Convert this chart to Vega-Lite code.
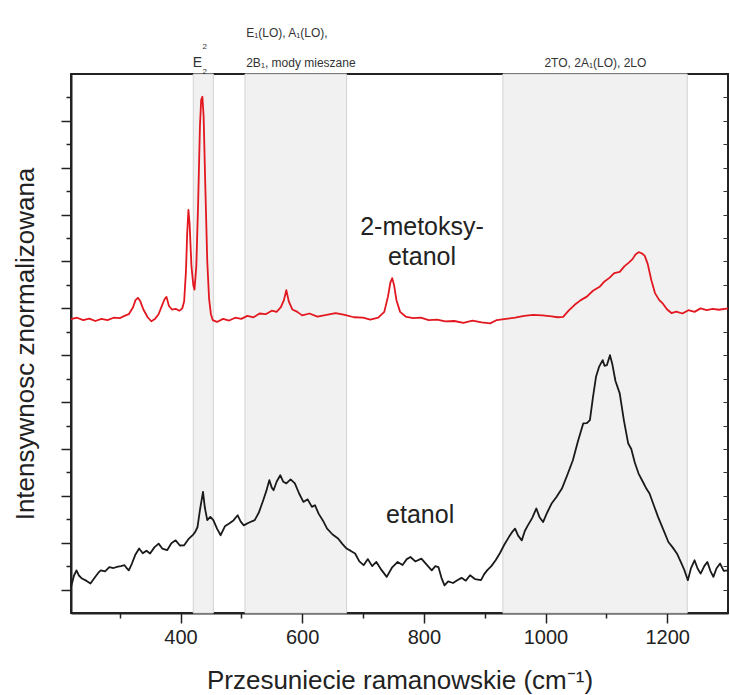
{
  "$schema": "https://vega.github.io/schema/vega-lite/v6.json",
  "width": 657,
  "height": 539,
  "autosize": {"type": "none"},
  "padding": {"left": 71, "top": 74, "right": 2, "bottom": 82},
  "background": "white",
  "config": {"view": {"stroke": "#222", "strokeWidth": 2}, "font": "Liberation Sans"},
  "datasets": {
    "bands": [
      {"start": 421, "end": 454},
      {"start": 506, "end": 673},
      {"start": 930, "end": 1233}
    ],
    "spectra": [
      {"shift": 220, "intensity": 1.11, "sample": "etanol"},
      {"shift": 225, "intensity": 1.6, "sample": "etanol"},
      {"shift": 229, "intensity": 1.82, "sample": "etanol"},
      {"shift": 233, "intensity": 1.6, "sample": "etanol"},
      {"shift": 238, "intensity": 1.47, "sample": "etanol"},
      {"shift": 245, "intensity": 1.38, "sample": "etanol"},
      {"shift": 252, "intensity": 1.26, "sample": "etanol"},
      {"shift": 260, "intensity": 1.55, "sample": "etanol"},
      {"shift": 265, "intensity": 1.72, "sample": "etanol"},
      {"shift": 269, "intensity": 1.82, "sample": "etanol"},
      {"shift": 276, "intensity": 1.78, "sample": "etanol"},
      {"shift": 283, "intensity": 1.96, "sample": "etanol"},
      {"shift": 290, "intensity": 1.92, "sample": "etanol"},
      {"shift": 297, "intensity": 1.98, "sample": "etanol"},
      {"shift": 302, "intensity": 2.0, "sample": "etanol"},
      {"shift": 308, "intensity": 2.04, "sample": "etanol"},
      {"shift": 312, "intensity": 1.9, "sample": "etanol"},
      {"shift": 315, "intensity": 1.82, "sample": "etanol"},
      {"shift": 320, "intensity": 2.1, "sample": "etanol"},
      {"shift": 326, "intensity": 2.5, "sample": "etanol"},
      {"shift": 332, "intensity": 2.75, "sample": "etanol"},
      {"shift": 338, "intensity": 2.55, "sample": "etanol"},
      {"shift": 344, "intensity": 2.66, "sample": "etanol"},
      {"shift": 350, "intensity": 2.54, "sample": "etanol"},
      {"shift": 357, "intensity": 2.8, "sample": "etanol"},
      {"shift": 364, "intensity": 2.96, "sample": "etanol"},
      {"shift": 370, "intensity": 2.75, "sample": "etanol"},
      {"shift": 378, "intensity": 2.68, "sample": "etanol"},
      {"shift": 385, "intensity": 2.98, "sample": "etanol"},
      {"shift": 392, "intensity": 3.1, "sample": "etanol"},
      {"shift": 399, "intensity": 2.88, "sample": "etanol"},
      {"shift": 406, "intensity": 2.89, "sample": "etanol"},
      {"shift": 413, "intensity": 3.15, "sample": "etanol"},
      {"shift": 420, "intensity": 3.32, "sample": "etanol"},
      {"shift": 424, "intensity": 3.45, "sample": "etanol"},
      {"shift": 428, "intensity": 3.67, "sample": "etanol"},
      {"shift": 432, "intensity": 4.4, "sample": "etanol"},
      {"shift": 437, "intensity": 5.17, "sample": "etanol"},
      {"shift": 440, "intensity": 4.5, "sample": "etanol"},
      {"shift": 444, "intensity": 3.96, "sample": "etanol"},
      {"shift": 449, "intensity": 4.1, "sample": "etanol"},
      {"shift": 454, "intensity": 3.96, "sample": "etanol"},
      {"shift": 460, "intensity": 3.6, "sample": "etanol"},
      {"shift": 466, "intensity": 3.32, "sample": "etanol"},
      {"shift": 473, "intensity": 3.7, "sample": "etanol"},
      {"shift": 480, "intensity": 3.82, "sample": "etanol"},
      {"shift": 487, "intensity": 3.95, "sample": "etanol"},
      {"shift": 494, "intensity": 4.17, "sample": "etanol"},
      {"shift": 499, "intensity": 3.9, "sample": "etanol"},
      {"shift": 504, "intensity": 3.74, "sample": "etanol"},
      {"shift": 512, "intensity": 3.85, "sample": "etanol"},
      {"shift": 522, "intensity": 3.96, "sample": "etanol"},
      {"shift": 529, "intensity": 4.3, "sample": "etanol"},
      {"shift": 536, "intensity": 4.81, "sample": "etanol"},
      {"shift": 541, "intensity": 5.2, "sample": "etanol"},
      {"shift": 546, "intensity": 5.67, "sample": "etanol"},
      {"shift": 550, "intensity": 5.35, "sample": "etanol"},
      {"shift": 553, "intensity": 5.24, "sample": "etanol"},
      {"shift": 558, "intensity": 5.6, "sample": "etanol"},
      {"shift": 564, "intensity": 5.88, "sample": "etanol"},
      {"shift": 569, "intensity": 5.6, "sample": "etanol"},
      {"shift": 574, "intensity": 5.53, "sample": "etanol"},
      {"shift": 581, "intensity": 5.7, "sample": "etanol"},
      {"shift": 588, "intensity": 5.53, "sample": "etanol"},
      {"shift": 595, "intensity": 5.1, "sample": "etanol"},
      {"shift": 602, "intensity": 4.74, "sample": "etanol"},
      {"shift": 609, "intensity": 4.85, "sample": "etanol"},
      {"shift": 616, "intensity": 4.53, "sample": "etanol"},
      {"shift": 621, "intensity": 4.6, "sample": "etanol"},
      {"shift": 627, "intensity": 4.24, "sample": "etanol"},
      {"shift": 634, "intensity": 3.95, "sample": "etanol"},
      {"shift": 641, "intensity": 3.6, "sample": "etanol"},
      {"shift": 650, "intensity": 3.35, "sample": "etanol"},
      {"shift": 659, "intensity": 3.18, "sample": "etanol"},
      {"shift": 666, "intensity": 2.95, "sample": "etanol"},
      {"shift": 673, "intensity": 2.75, "sample": "etanol"},
      {"shift": 680, "intensity": 2.65, "sample": "etanol"},
      {"shift": 687, "intensity": 2.54, "sample": "etanol"},
      {"shift": 694, "intensity": 2.2, "sample": "etanol"},
      {"shift": 701, "intensity": 2.04, "sample": "etanol"},
      {"shift": 708, "intensity": 2.3, "sample": "etanol"},
      {"shift": 715, "intensity": 2.0, "sample": "etanol"},
      {"shift": 722, "intensity": 2.18, "sample": "etanol"},
      {"shift": 730, "intensity": 1.85, "sample": "etanol"},
      {"shift": 739, "intensity": 1.54, "sample": "etanol"},
      {"shift": 748, "intensity": 1.95, "sample": "etanol"},
      {"shift": 757, "intensity": 2.18, "sample": "etanol"},
      {"shift": 765, "intensity": 2.05, "sample": "etanol"},
      {"shift": 772, "intensity": 2.3, "sample": "etanol"},
      {"shift": 778, "intensity": 2.39, "sample": "etanol"},
      {"shift": 786, "intensity": 2.2, "sample": "etanol"},
      {"shift": 796, "intensity": 2.32, "sample": "etanol"},
      {"shift": 805, "intensity": 2.05, "sample": "etanol"},
      {"shift": 813, "intensity": 1.82, "sample": "etanol"},
      {"shift": 819, "intensity": 2.0, "sample": "etanol"},
      {"shift": 824, "intensity": 1.96, "sample": "etanol"},
      {"shift": 829, "intensity": 1.5, "sample": "etanol"},
      {"shift": 834, "intensity": 1.18, "sample": "etanol"},
      {"shift": 840, "intensity": 1.35, "sample": "etanol"},
      {"shift": 848, "intensity": 1.28, "sample": "etanol"},
      {"shift": 855, "intensity": 1.4, "sample": "etanol"},
      {"shift": 862, "intensity": 1.5, "sample": "etanol"},
      {"shift": 869, "intensity": 1.38, "sample": "etanol"},
      {"shift": 876, "intensity": 1.61, "sample": "etanol"},
      {"shift": 884, "intensity": 1.45, "sample": "etanol"},
      {"shift": 894, "intensity": 1.4, "sample": "etanol"},
      {"shift": 899, "intensity": 1.65, "sample": "etanol"},
      {"shift": 904, "intensity": 1.82, "sample": "etanol"},
      {"shift": 911, "intensity": 2.0, "sample": "etanol"},
      {"shift": 918, "intensity": 2.25, "sample": "etanol"},
      {"shift": 925, "intensity": 2.55, "sample": "etanol"},
      {"shift": 932, "intensity": 2.9, "sample": "etanol"},
      {"shift": 940, "intensity": 3.25, "sample": "etanol"},
      {"shift": 945, "intensity": 3.45, "sample": "etanol"},
      {"shift": 950, "intensity": 3.6, "sample": "etanol"},
      {"shift": 955, "intensity": 3.3, "sample": "etanol"},
      {"shift": 961, "intensity": 3.1, "sample": "etanol"},
      {"shift": 966, "intensity": 3.5, "sample": "etanol"},
      {"shift": 971, "intensity": 3.74, "sample": "etanol"},
      {"shift": 978, "intensity": 4.05, "sample": "etanol"},
      {"shift": 985, "intensity": 4.46, "sample": "etanol"},
      {"shift": 990, "intensity": 4.1, "sample": "etanol"},
      {"shift": 996, "intensity": 3.88, "sample": "etanol"},
      {"shift": 1003, "intensity": 4.3, "sample": "etanol"},
      {"shift": 1010, "intensity": 4.67, "sample": "etanol"},
      {"shift": 1018, "intensity": 4.95, "sample": "etanol"},
      {"shift": 1027, "intensity": 5.31, "sample": "etanol"},
      {"shift": 1036, "intensity": 5.9, "sample": "etanol"},
      {"shift": 1045, "intensity": 6.52, "sample": "etanol"},
      {"shift": 1053, "intensity": 7.3, "sample": "etanol"},
      {"shift": 1062, "intensity": 8.09, "sample": "etanol"},
      {"shift": 1068, "intensity": 8.1, "sample": "etanol"},
      {"shift": 1073, "intensity": 8.23, "sample": "etanol"},
      {"shift": 1078, "intensity": 9.2, "sample": "etanol"},
      {"shift": 1083, "intensity": 10.08, "sample": "etanol"},
      {"shift": 1088, "intensity": 10.5, "sample": "etanol"},
      {"shift": 1094, "intensity": 10.79, "sample": "etanol"},
      {"shift": 1097, "intensity": 10.55, "sample": "etanol"},
      {"shift": 1101, "intensity": 10.58, "sample": "etanol"},
      {"shift": 1106, "intensity": 11.0, "sample": "etanol"},
      {"shift": 1110, "intensity": 10.6, "sample": "etanol"},
      {"shift": 1115, "intensity": 9.9, "sample": "etanol"},
      {"shift": 1122, "intensity": 9.37, "sample": "etanol"},
      {"shift": 1129, "intensity": 8.2, "sample": "etanol"},
      {"shift": 1136, "intensity": 7.23, "sample": "etanol"},
      {"shift": 1141, "intensity": 7.0, "sample": "etanol"},
      {"shift": 1147, "intensity": 6.4, "sample": "etanol"},
      {"shift": 1153, "intensity": 5.95, "sample": "etanol"},
      {"shift": 1160, "intensity": 5.6, "sample": "etanol"},
      {"shift": 1166, "intensity": 5.3, "sample": "etanol"},
      {"shift": 1171, "intensity": 5.1, "sample": "etanol"},
      {"shift": 1178, "intensity": 4.6, "sample": "etanol"},
      {"shift": 1185, "intensity": 4.1, "sample": "etanol"},
      {"shift": 1193, "intensity": 3.6, "sample": "etanol"},
      {"shift": 1202, "intensity": 3.03, "sample": "etanol"},
      {"shift": 1209, "intensity": 2.8, "sample": "etanol"},
      {"shift": 1216, "intensity": 2.54, "sample": "etanol"},
      {"shift": 1222, "intensity": 2.2, "sample": "etanol"},
      {"shift": 1228, "intensity": 1.85, "sample": "etanol"},
      {"shift": 1234, "intensity": 1.4, "sample": "etanol"},
      {"shift": 1239, "intensity": 1.9, "sample": "etanol"},
      {"shift": 1245, "intensity": 2.25, "sample": "etanol"},
      {"shift": 1250, "intensity": 1.9, "sample": "etanol"},
      {"shift": 1255, "intensity": 1.68, "sample": "etanol"},
      {"shift": 1261, "intensity": 2.0, "sample": "etanol"},
      {"shift": 1266, "intensity": 2.18, "sample": "etanol"},
      {"shift": 1271, "intensity": 1.8, "sample": "etanol"},
      {"shift": 1276, "intensity": 1.54, "sample": "etanol"},
      {"shift": 1281, "intensity": 1.9, "sample": "etanol"},
      {"shift": 1287, "intensity": 2.11, "sample": "etanol"},
      {"shift": 1293, "intensity": 1.8, "sample": "etanol"},
      {"shift": 1300, "intensity": 1.82, "sample": "etanol"},

      {"shift": 220, "intensity": 12.54, "sample": "2-metoksy-etanol"},
      {"shift": 230, "intensity": 12.6, "sample": "2-metoksy-etanol"},
      {"shift": 240, "intensity": 12.5, "sample": "2-metoksy-etanol"},
      {"shift": 250, "intensity": 12.56, "sample": "2-metoksy-etanol"},
      {"shift": 260, "intensity": 12.46, "sample": "2-metoksy-etanol"},
      {"shift": 270, "intensity": 12.55, "sample": "2-metoksy-etanol"},
      {"shift": 280, "intensity": 12.5, "sample": "2-metoksy-etanol"},
      {"shift": 290, "intensity": 12.6, "sample": "2-metoksy-etanol"},
      {"shift": 300, "intensity": 12.58, "sample": "2-metoksy-etanol"},
      {"shift": 308, "intensity": 12.68, "sample": "2-metoksy-etanol"},
      {"shift": 315, "intensity": 12.75, "sample": "2-metoksy-etanol"},
      {"shift": 322, "intensity": 13.05, "sample": "2-metoksy-etanol"},
      {"shift": 326, "intensity": 13.35, "sample": "2-metoksy-etanol"},
      {"shift": 330, "intensity": 13.45, "sample": "2-metoksy-etanol"},
      {"shift": 334, "intensity": 13.3, "sample": "2-metoksy-etanol"},
      {"shift": 339, "intensity": 12.95, "sample": "2-metoksy-etanol"},
      {"shift": 346, "intensity": 12.62, "sample": "2-metoksy-etanol"},
      {"shift": 352, "intensity": 12.45, "sample": "2-metoksy-etanol"},
      {"shift": 358, "intensity": 12.55, "sample": "2-metoksy-etanol"},
      {"shift": 364, "intensity": 12.75, "sample": "2-metoksy-etanol"},
      {"shift": 370, "intensity": 13.15, "sample": "2-metoksy-etanol"},
      {"shift": 374, "intensity": 13.4, "sample": "2-metoksy-etanol"},
      {"shift": 377, "intensity": 13.49, "sample": "2-metoksy-etanol"},
      {"shift": 381, "intensity": 13.1, "sample": "2-metoksy-etanol"},
      {"shift": 386, "intensity": 12.95, "sample": "2-metoksy-etanol"},
      {"shift": 392, "intensity": 12.98, "sample": "2-metoksy-etanol"},
      {"shift": 398, "intensity": 12.9, "sample": "2-metoksy-etanol"},
      {"shift": 403, "intensity": 13.0, "sample": "2-metoksy-etanol"},
      {"shift": 406, "intensity": 13.3, "sample": "2-metoksy-etanol"},
      {"shift": 409, "intensity": 14.6, "sample": "2-metoksy-etanol"},
      {"shift": 411, "intensity": 16.2, "sample": "2-metoksy-etanol"},
      {"shift": 413, "intensity": 17.2, "sample": "2-metoksy-etanol"},
      {"shift": 415, "intensity": 16.6, "sample": "2-metoksy-etanol"},
      {"shift": 418, "intensity": 14.8, "sample": "2-metoksy-etanol"},
      {"shift": 421, "intensity": 14.0, "sample": "2-metoksy-etanol"},
      {"shift": 423, "intensity": 13.8, "sample": "2-metoksy-etanol"},
      {"shift": 426, "intensity": 14.8, "sample": "2-metoksy-etanol"},
      {"shift": 429, "intensity": 17.5, "sample": "2-metoksy-etanol"},
      {"shift": 432, "intensity": 20.8, "sample": "2-metoksy-etanol"},
      {"shift": 434, "intensity": 21.9, "sample": "2-metoksy-etanol"},
      {"shift": 436, "intensity": 22.03, "sample": "2-metoksy-etanol"},
      {"shift": 438, "intensity": 21.2, "sample": "2-metoksy-etanol"},
      {"shift": 441, "intensity": 18.0, "sample": "2-metoksy-etanol"},
      {"shift": 444, "intensity": 15.0, "sample": "2-metoksy-etanol"},
      {"shift": 447, "intensity": 13.4, "sample": "2-metoksy-etanol"},
      {"shift": 450, "intensity": 12.75, "sample": "2-metoksy-etanol"},
      {"shift": 453, "intensity": 12.5, "sample": "2-metoksy-etanol"},
      {"shift": 460, "intensity": 12.42, "sample": "2-metoksy-etanol"},
      {"shift": 470, "intensity": 12.55, "sample": "2-metoksy-etanol"},
      {"shift": 480, "intensity": 12.48, "sample": "2-metoksy-etanol"},
      {"shift": 490, "intensity": 12.6, "sample": "2-metoksy-etanol"},
      {"shift": 500, "intensity": 12.55, "sample": "2-metoksy-etanol"},
      {"shift": 510, "intensity": 12.68, "sample": "2-metoksy-etanol"},
      {"shift": 520, "intensity": 12.62, "sample": "2-metoksy-etanol"},
      {"shift": 530, "intensity": 12.78, "sample": "2-metoksy-etanol"},
      {"shift": 540, "intensity": 12.75, "sample": "2-metoksy-etanol"},
      {"shift": 550, "intensity": 12.9, "sample": "2-metoksy-etanol"},
      {"shift": 558, "intensity": 12.85, "sample": "2-metoksy-etanol"},
      {"shift": 565, "intensity": 13.05, "sample": "2-metoksy-etanol"},
      {"shift": 570, "intensity": 13.35, "sample": "2-metoksy-etanol"},
      {"shift": 574, "intensity": 13.78, "sample": "2-metoksy-etanol"},
      {"shift": 578, "intensity": 13.3, "sample": "2-metoksy-etanol"},
      {"shift": 584, "intensity": 12.95, "sample": "2-metoksy-etanol"},
      {"shift": 592, "intensity": 12.85, "sample": "2-metoksy-etanol"},
      {"shift": 600, "intensity": 12.7, "sample": "2-metoksy-etanol"},
      {"shift": 612, "intensity": 12.78, "sample": "2-metoksy-etanol"},
      {"shift": 625, "intensity": 12.65, "sample": "2-metoksy-etanol"},
      {"shift": 640, "intensity": 12.72, "sample": "2-metoksy-etanol"},
      {"shift": 655, "intensity": 12.8, "sample": "2-metoksy-etanol"},
      {"shift": 670, "intensity": 12.72, "sample": "2-metoksy-etanol"},
      {"shift": 685, "intensity": 12.62, "sample": "2-metoksy-etanol"},
      {"shift": 700, "intensity": 12.6, "sample": "2-metoksy-etanol"},
      {"shift": 712, "intensity": 12.52, "sample": "2-metoksy-etanol"},
      {"shift": 725, "intensity": 12.6, "sample": "2-metoksy-etanol"},
      {"shift": 735, "intensity": 12.85, "sample": "2-metoksy-etanol"},
      {"shift": 741, "intensity": 13.5, "sample": "2-metoksy-etanol"},
      {"shift": 745, "intensity": 14.1, "sample": "2-metoksy-etanol"},
      {"shift": 748, "intensity": 14.29, "sample": "2-metoksy-etanol"},
      {"shift": 751, "intensity": 14.0, "sample": "2-metoksy-etanol"},
      {"shift": 755, "intensity": 13.35, "sample": "2-metoksy-etanol"},
      {"shift": 761, "intensity": 12.85, "sample": "2-metoksy-etanol"},
      {"shift": 770, "intensity": 12.65, "sample": "2-metoksy-etanol"},
      {"shift": 782, "intensity": 12.58, "sample": "2-metoksy-etanol"},
      {"shift": 795, "intensity": 12.6, "sample": "2-metoksy-etanol"},
      {"shift": 808, "intensity": 12.5, "sample": "2-metoksy-etanol"},
      {"shift": 822, "intensity": 12.52, "sample": "2-metoksy-etanol"},
      {"shift": 835, "intensity": 12.44, "sample": "2-metoksy-etanol"},
      {"shift": 850, "intensity": 12.46, "sample": "2-metoksy-etanol"},
      {"shift": 865, "intensity": 12.38, "sample": "2-metoksy-etanol"},
      {"shift": 880, "intensity": 12.48, "sample": "2-metoksy-etanol"},
      {"shift": 895, "intensity": 12.4, "sample": "2-metoksy-etanol"},
      {"shift": 909, "intensity": 12.36, "sample": "2-metoksy-etanol"},
      {"shift": 920, "intensity": 12.5, "sample": "2-metoksy-etanol"},
      {"shift": 935, "intensity": 12.55, "sample": "2-metoksy-etanol"},
      {"shift": 950, "intensity": 12.6, "sample": "2-metoksy-etanol"},
      {"shift": 965, "intensity": 12.68, "sample": "2-metoksy-etanol"},
      {"shift": 980, "intensity": 12.72, "sample": "2-metoksy-etanol"},
      {"shift": 995, "intensity": 12.7, "sample": "2-metoksy-etanol"},
      {"shift": 1010, "intensity": 12.66, "sample": "2-metoksy-etanol"},
      {"shift": 1020, "intensity": 12.62, "sample": "2-metoksy-etanol"},
      {"shift": 1029, "intensity": 12.64, "sample": "2-metoksy-etanol"},
      {"shift": 1038, "intensity": 12.9, "sample": "2-metoksy-etanol"},
      {"shift": 1048, "intensity": 13.15, "sample": "2-metoksy-etanol"},
      {"shift": 1058, "intensity": 13.35, "sample": "2-metoksy-etanol"},
      {"shift": 1068, "intensity": 13.5, "sample": "2-metoksy-etanol"},
      {"shift": 1078, "intensity": 13.75, "sample": "2-metoksy-etanol"},
      {"shift": 1089, "intensity": 13.92, "sample": "2-metoksy-etanol"},
      {"shift": 1097, "intensity": 14.15, "sample": "2-metoksy-etanol"},
      {"shift": 1105, "intensity": 14.3, "sample": "2-metoksy-etanol"},
      {"shift": 1113, "intensity": 14.5, "sample": "2-metoksy-etanol"},
      {"shift": 1122, "intensity": 14.56, "sample": "2-metoksy-etanol"},
      {"shift": 1130, "intensity": 14.8, "sample": "2-metoksy-etanol"},
      {"shift": 1137, "intensity": 14.95, "sample": "2-metoksy-etanol"},
      {"shift": 1143, "intensity": 15.1, "sample": "2-metoksy-etanol"},
      {"shift": 1148, "intensity": 15.3, "sample": "2-metoksy-etanol"},
      {"shift": 1153, "intensity": 15.4, "sample": "2-metoksy-etanol"},
      {"shift": 1158, "intensity": 15.35, "sample": "2-metoksy-etanol"},
      {"shift": 1163, "intensity": 15.25, "sample": "2-metoksy-etanol"},
      {"shift": 1168, "intensity": 14.9, "sample": "2-metoksy-etanol"},
      {"shift": 1174, "intensity": 14.2, "sample": "2-metoksy-etanol"},
      {"shift": 1180, "intensity": 13.65, "sample": "2-metoksy-etanol"},
      {"shift": 1187, "intensity": 13.35, "sample": "2-metoksy-etanol"},
      {"shift": 1193, "intensity": 13.2, "sample": "2-metoksy-etanol"},
      {"shift": 1200, "intensity": 12.95, "sample": "2-metoksy-etanol"},
      {"shift": 1207, "intensity": 12.8, "sample": "2-metoksy-etanol"},
      {"shift": 1215, "intensity": 12.86, "sample": "2-metoksy-etanol"},
      {"shift": 1225, "intensity": 12.78, "sample": "2-metoksy-etanol"},
      {"shift": 1235, "intensity": 12.92, "sample": "2-metoksy-etanol"},
      {"shift": 1245, "intensity": 12.85, "sample": "2-metoksy-etanol"},
      {"shift": 1255, "intensity": 13.0, "sample": "2-metoksy-etanol"},
      {"shift": 1265, "intensity": 12.92, "sample": "2-metoksy-etanol"},
      {"shift": 1275, "intensity": 12.98, "sample": "2-metoksy-etanol"},
      {"shift": 1285, "intensity": 12.94, "sample": "2-metoksy-etanol"},
      {"shift": 1300, "intensity": 13.0, "sample": "2-metoksy-etanol"}
    ],
    "samplelabels": [
      {"x": 797, "y": 16.48, "text": "2-metoksy-"},
      {"x": 797, "y": 15.2, "text": "etanol"},
      {"x": 794, "y": 4.17, "text": "etanol"}
    ],
    "notesleft": [
      {"x": 508, "y": 24.75, "text": "E₁(LO), A₁(LO),"},
      {"x": 508, "y": 23.45, "text": "2B₁, mody mieszane"}
    ],
    "notescenter": [
      {"x": 1082, "y": 23.45, "text": "2TO, 2A₁(LO), 2LO", "size": 12},
      {"x": 428, "y": 23.45, "text": "E", "size": 14},
      {"x": 440, "y": 24.15, "text": "2", "size": 8},
      {"x": 440, "y": 23.1, "text": "2", "size": 8}
    ]
  },
  "layer": [
    {
      "data": {"name": "bands"},
      "mark": {"type": "rect", "fill": "#f1f1f1", "stroke": "#d2d2d2", "strokeWidth": 1},
      "encoding": {
        "x": {"field": "start", "type": "quantitative", "scale": {"domain": [220, 1300], "nice": false, "zero": false}},
        "x2": {"field": "end"}
      }
    },
    {
      "data": {"name": "spectra"},
      "mark": {"type": "line", "strokeWidth": 1.8, "strokeJoin": "round"},
      "encoding": {
        "x": {
          "field": "shift", "type": "quantitative",
          "scale": {"domain": [220, 1300], "nice": false, "zero": false},
          "axis": {
            "orient": "bottom",
            "values": [300, 400, 500, 600, 700, 800, 900, 1000, 1100, 1200],
            "labelExpr": "datum.value % 200 === 0 ? '' + datum.value : ''",
            "grid": false,
            "domainColor": "#222", "domainWidth": 2,
            "tickColor": "#222", "tickWidth": 1.5,
            "tickSize": {"condition": {"test": "datum.value % 200 === 0", "value": 10}, "value": 5},
            "labelFontSize": 20, "labelColor": "#222", "labelPadding": 4, "labelFont": "Liberation Sans",
            "title": "Przesuniecie ramanowskie (cm⁻¹)",
            "titleFontSize": 26, "titleFontWeight": "normal", "titleColor": "#222", "titleFont": "Liberation Sans",
            "titleBaseline": "middle", "titleY": 67
          }
        },
        "y": {
          "field": "intensity", "type": "quantitative",
          "scale": {"domain": [0, 23], "nice": false, "zero": false},
          "axis": {
            "orient": "left",
            "values": [1, 2, 3, 4, 5, 6, 7, 8, 9, 10, 11, 12, 13, 14, 15, 16, 17, 18, 19, 20, 21, 22],
            "labels": false,
            "grid": false,
            "domainColor": "#222", "domainWidth": 2,
            "tickColor": "#222", "tickWidth": 1.5,
            "tickSize": {"condition": {"test": "datum.value % 2 === 1", "value": 10}, "value": 5},
            "title": "Intensywnosc znormalizowana",
            "titleFontSize": 26, "titleFontWeight": "normal", "titleColor": "#222", "titleFont": "Liberation Sans",
            "titleBaseline": "middle", "titleX": -46
          }
        },
        "color": {
          "field": "sample", "type": "nominal",
          "scale": {"domain": ["2-metoksy-etanol", "etanol"], "range": ["#e3171f", "#1a1a1a"]},
          "legend": null
        }
      }
    },
    {
      "data": {"name": "samplelabels"},
      "mark": {"type": "text", "fontSize": 25, "font": "Liberation Sans", "color": "#222", "align": "center", "baseline": "middle"},
      "encoding": {
        "x": {"field": "x", "type": "quantitative", "scale": {"domain": [220, 1300], "nice": false, "zero": false}},
        "y": {
          "field": "y", "type": "quantitative",
          "scale": {"domain": [0, 23], "nice": false, "zero": false},
          "axis": {
            "orient": "right",
            "values": [1, 2, 3, 4, 5, 6, 7, 8, 9, 10, 11, 12, 13, 14, 15, 16, 17, 18, 19, 20, 21, 22],
            "labels": false, "domain": false, "grid": false,
            "tickColor": "#333", "tickWidth": 1, "tickSize": -5,
            "title": null
          }
        },
        "text": {"field": "text"}
      }
    },
    {
      "data": {"name": "notesleft"},
      "mark": {"type": "text", "font": "Liberation Sans", "fontSize": 12, "color": "#333", "align": "left", "baseline": "middle"},
      "encoding": {
        "x": {"field": "x", "type": "quantitative", "scale": {"domain": [220, 1300], "nice": false, "zero": false}},
        "y": {"field": "y", "type": "quantitative", "scale": {"domain": [0, 23], "nice": false, "zero": false}, "axis": null},
        "text": {"field": "text"}
      }
    },
    {
      "data": {"name": "notescenter"},
      "mark": {"type": "text", "font": "Liberation Sans", "color": "#333", "align": "center", "baseline": "middle"},
      "encoding": {
        "x": {"field": "x", "type": "quantitative", "scale": {"domain": [220, 1300], "nice": false, "zero": false}},
        "y": {"field": "y", "type": "quantitative", "scale": {"domain": [0, 23], "nice": false, "zero": false}, "axis": null},
        "text": {"field": "text"},
        "size": {"field": "size", "type": "quantitative", "scale": null}
      }
    }
  ],
  "resolve": {"axis": {"y": "independent"}}
}
